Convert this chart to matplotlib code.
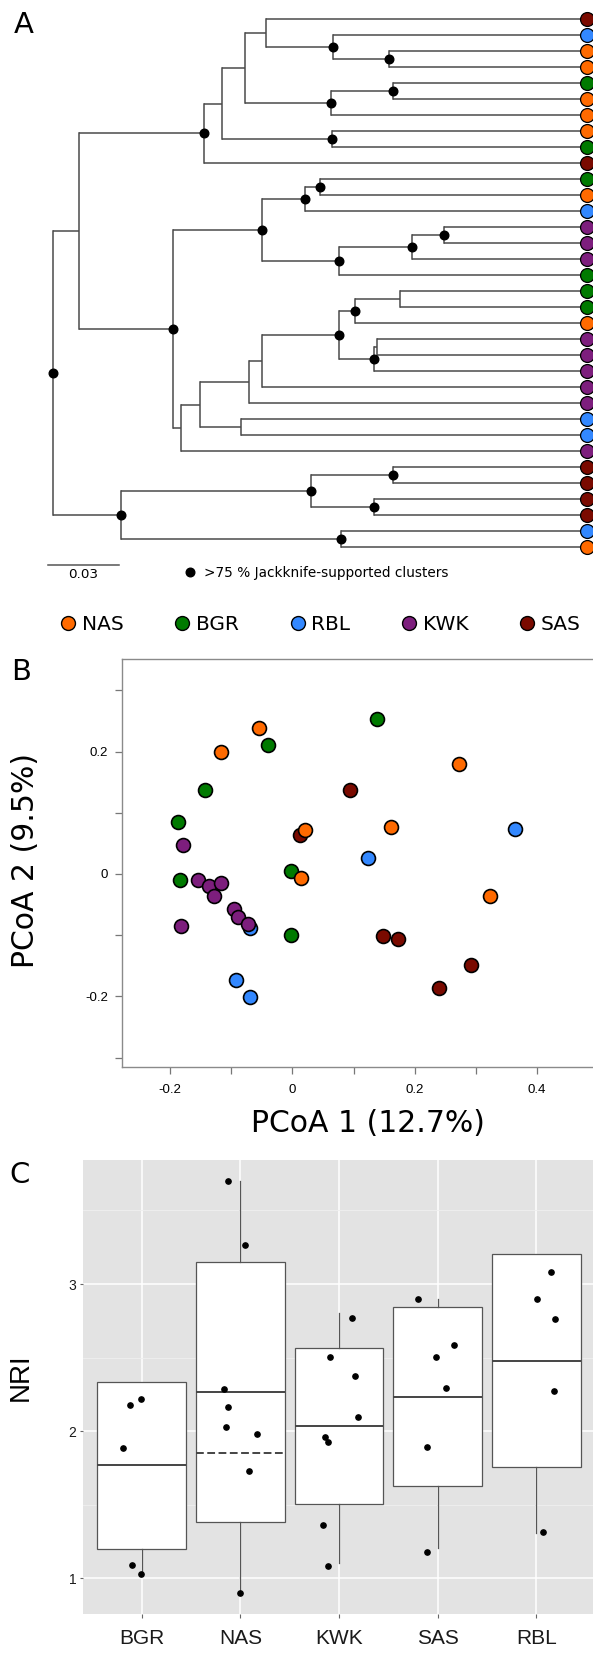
import matplotlib
matplotlib.use('Agg')
import matplotlib.pyplot as plt
from matplotlib.lines import Line2D
from matplotlib.ticker import MultipleLocator, FixedLocator, FuncFormatter

plt.rcParams['font.family'] = ['DejaVu Sans']
plt.rcParams['axes.unicode_minus'] = False

W, H, DPI = 593, 1659, 100

GROUPS = ['NAS', 'BGR', 'RBL', 'KWK', 'SAS']
COLORS = {'NAS': '#ff6a00', 'BGR': '#007a00', 'RBL': '#3388ff',
          'KWK': '#7d1e7d', 'SAS': '#7a0a00'}

# ---- panel A: tree (tips listed top to bottom) ----
TIP_GROUPS = ['SAS', 'RBL', 'NAS', 'NAS', 'BGR', 'NAS', 'NAS', 'NAS', 'BGR', 'SAS',
              'BGR', 'NAS', 'RBL', 'KWK', 'KWK', 'KWK', 'BGR', 'BGR', 'BGR', 'NAS',
              'KWK', 'KWK', 'KWK', 'KWK', 'KWK', 'RBL', 'RBL', 'KWK',
              'SAS', 'SAS', 'SAS', 'SAS', 'RBL', 'NAS']
TIP_DEPTH = 0.2275
# internal node = (depth from root, jackknife > 75 %, children...); leaf = tip index
TREE = (0.0, True,
        (0.0111, False,
         (0.0646, True,
          (0.0722, False,
           (0.0819, False,
            (0.0911, False, 0, (0.1193, True, 1, (0.1433, True, 2, 3))),
            (0.1188, True, (0.1452, True, 4, 5), 6)),
           (0.1191, True, 7, 8)),
          9),
         (0.0511, True,
          (0.0893, True,
           (0.1075, True, (0.1139, True, 10, 11), 12),
           (0.1220, True, (0.1532, True, (0.1666, True, 13, 14), 15), 16)),
          (0.0545, False,
           (0.0627, False,
            (0.0836, False,
             (0.0894, False,
              (0.1222, True,
               (0.1288, True, (0.1481, False, 17, 18), 19),
               (0.1371, True, (0.1384, False, 20, 21), 22)),
              23),
             24),
            (0.0804, False, 25, 26)),
           27))),
        (0.0290, True,
         (0.1102, True, (0.1449, True, 28, 29), (0.1371, True, 30, 31)),
         (0.1230, True, 32, 33)))
SCALE_BAR = 0.03

# ---- panel B: PCoA ----
PCOA = {
    'SAS': ([0.095, 0.0123, 0.148, 0.1725, 0.2925, 0.239],
            [0.137, 0.0637, -0.102, -0.1068, -0.148, -0.186]),
    'RBL': ([0.364, 0.124, -0.0693, -0.0929, -0.070],
            [0.073, 0.0256, -0.088, -0.174, -0.2015]),
    'BGR': ([-0.0396, 0.138, -0.1435, -0.187, -0.003, -0.184, -0.0026],
            [0.211, 0.253, 0.137, 0.0855, 0.0044, -0.0098, -0.100]),
    'KWK': ([-0.179, -0.155, -0.137, -0.116, -0.1275, -0.096, -0.089, -0.0724, -0.1825],
            [0.048, -0.0098, -0.019, -0.0147, -0.0365, -0.0577, -0.070, -0.081, -0.085]),
    'NAS': ([-0.0545, -0.116, 0.273, 0.161, 0.0203, 0.0148, 0.3234],
            [0.239, 0.200, 0.180, 0.0768, 0.0714, -0.0065, -0.0365]),
}

# ---- panel C: NRI boxplots ----
NRI_GROUPS = ['BGR', 'NAS', 'KWK', 'SAS', 'RBL']
NRI_Q1 = [1.199, 1.381, 1.505, 1.630, 1.759]
NRI_MED = [1.771, 2.265, 2.036, 2.235, 2.480]
NRI_Q3 = [2.337, 3.148, 2.565, 2.843, 3.204]
NRI_LO = [1.030, 0.898, 1.102, 1.204, 1.306]
NRI_HI = [2.337, 3.703, 2.803, 2.898, 3.204]
NAS_DASHED = 1.85
NRI_POINTS = {
    'BGR': ([2.177, 2.218, 1.882, 1.088, 1.027], [-0.119, -0.007, -0.192, -0.095, -0.007]),
    'NAS': ([3.703, 3.265, 2.286, 2.163, 2.025, 1.980, 1.732, 0.898],
            [-0.123, 0.047, -0.164, -0.123, -0.141, 0.169, 0.085, -0.007]),
    'KWK': ([2.771, 2.503, 2.378, 2.099, 1.963, 1.927, 1.363, 1.084],
            [0.131, -0.092, 0.161, 0.192, -0.142, -0.112, -0.161, -0.112]),
    'SAS': ([2.898, 2.585, 2.503, 2.295, 1.893, 1.181],
            [-0.200, 0.168, -0.015, 0.080, -0.112, -0.112]),
    'RBL': ([3.082, 2.898, 2.764, 2.276, 1.313], [0.150, 0.004, 0.188, 0.176, 0.065]),
}


def px_axes(fig, x0, y0, x1, y1):
    return fig.add_axes([x0 / W, 1 - y1 / H, (x1 - x0) / W, (y1 - y0) / H])


fig = plt.figure(figsize=(W / DPI, H / DPI), dpi=DPI)
LINE = '#4a4a4a'

# ---------------- A ----------------
axA = px_axes(fig, 0, 0, 593, 650)
axA.set_xlim(-0.02241, 0.23025)
axA.set_ylim(39.4375, -1.1875)
axA.axis('off')


def draw_node(ax, node):
    if isinstance(node, int):
        return node
    depth, supported, *kids = node
    ys = []
    for k in kids:
        y = draw_node(ax, k)
        kd = TIP_DEPTH if isinstance(k, int) else k[0]
        ax.plot([depth, kd], [y, y], color=LINE, lw=1.1, solid_capstyle='butt', zorder=1)
        ys.append(y)
    ax.plot([depth, depth], [ys[0], ys[-1]], color=LINE, lw=1.1,
            solid_capstyle='projecting', zorder=1)
    y = (ys[0] + ys[-1]) / 2
    if supported:
        ax.plot(depth, y, 'o', color='black', ms=6.2, zorder=3)
    return y


draw_node(axA, TREE)
for i, g in enumerate(TIP_GROUPS):
    axA.plot(TIP_DEPTH, i, 'o', mfc=COLORS[g], mec='black', mew=0.9, ms=10, zorder=4)

axA.plot([-0.0018, -0.0018 + SCALE_BAR], [34.125, 34.125], color='#555555', lw=1.1)
axA.text(-0.0018 + SCALE_BAR / 2, 34.69, '0.03', ha='center', va='center', fontsize=9.7)
axA.plot(0.0585, 34.54, 'o', color='black', ms=6.2)
axA.text(0.0645, 34.85, '>75 % Jackknife-supported clusters', ha='left',
         va='baseline', fontsize=9.8)

handles = [Line2D([], [], ls='', marker='o', mfc=COLORS[g], mec='black', mew=1.0, ms=10)
           for g in GROUPS]
fig.legend(handles, GROUPS, ncol=5, loc='center left',
           bbox_to_anchor=(60.5 / W, 1 - 625 / H), frameon=False, fontsize=14.5,
           handlelength=0.75, handletextpad=0.3, columnspacing=2.55,
           borderpad=0, borderaxespad=0)

# ---------------- B ----------------
axB = px_axes(fig, 122.2, 659, 600, 1067)
axB.set_xlim(-0.2783, 0.503)
axB.set_ylim(-0.3154, 0.3513)
for g in ['SAS', 'RBL', 'BGR', 'KWK', 'NAS']:
    xs, ys = PCOA[g]
    axB.scatter(xs, ys, s=100, c=COLORS[g], edgecolors='black', linewidths=1.2, zorder=3)
for s in ['left', 'bottom', 'top']:
    axB.spines[s].set_color('#8a8a8a')
    axB.spines[s].set_linewidth(1.0)
axB.spines['right'].set_visible(False)
axB.xaxis.set_major_locator(MultipleLocator(0.2))
axB.xaxis.set_minor_locator(MultipleLocator(0.1))
axB.yaxis.set_major_locator(MultipleLocator(0.2))
axB.yaxis.set_minor_locator(MultipleLocator(0.1))
fmt = FuncFormatter(lambda v, p: f'{round(v, 2) + 0.0:g}')
axB.xaxis.set_major_formatter(fmt)
axB.yaxis.set_major_formatter(fmt)
axB.tick_params(which='both', direction='out', length=5, width=0.9, color='#777777',
                labelsize=9.5, labelfontfamily='Liberation Sans')
axB.tick_params(axis='x', pad=7)
axB.tick_params(axis='y', pad=5)
fig.text(367.8 / W, 1 - 1123 / H, 'PCoA 1 (12.7%)', fontsize=21.5, ha='center', va='center')
fig.text(25.7 / W, 1 - 861 / H, 'PCoA 2 (9.5%)', fontsize=21.5, ha='center', va='center',
         rotation=90)

# ---------------- C ----------------
axC = px_axes(fig, 82.5, 1160, 595.5, 1614)
axC.set_xlim(0.4, 5.6)
axC.set_ylim(0.757, 3.843)
axC.set_facecolor('#e3e3e3')
for s in axC.spines.values():
    s.set_visible(False)
axC.set_axisbelow(True)
axC.yaxis.set_major_locator(FixedLocator([1, 2, 3]))
axC.yaxis.set_minor_locator(FixedLocator([1.5, 2.5, 3.5]))
axC.grid(which='major', color='white', lw=1.1)
axC.grid(which='minor', axis='y', color='#efefef', lw=0.6)

positions = list(range(1, len(NRI_GROUPS) + 1))
stats = [dict(med=NRI_MED[i], q1=NRI_Q1[i], q3=NRI_Q3[i], whislo=NRI_LO[i],
              whishi=NRI_HI[i], label=g) for i, g in enumerate(NRI_GROUPS)]
axC.bxp(stats, positions=positions, widths=0.9, showfliers=False, showcaps=False,
        patch_artist=True,
        boxprops=dict(facecolor='white', edgecolor='#555555', lw=0.9),
        medianprops=dict(color='#444444', lw=1.4),
        whiskerprops=dict(color='#555555', lw=0.9))
nas_pos = positions[NRI_GROUPS.index('NAS')]
axC.hlines(NAS_DASHED, nas_pos - 0.45, nas_pos + 0.45, colors='#444444',
           linestyles=(0, (4, 1.8)), lw=1.4, zorder=3)
for p, g in zip(positions, NRI_GROUPS):
    vals, offs = NRI_POINTS[g]
    axC.plot([p + o for o in offs], vals, 'o', color='black', ms=3.8, zorder=4)

axC.set_xticks(positions)
axC.set_xticklabels(NRI_GROUPS)
axC.tick_params(which='both', direction='out', color='#666666', width=0.8)
axC.tick_params(axis='x', length=3, pad=8, labelsize=15, labelfontfamily='Liberation Sans',
                labelcolor='#1a1a1a')
axC.tick_params(axis='y', which='major', length=2.5, pad=2, labelsize=10,
                labelfontfamily='Liberation Sans', labelcolor='#1a1a1a')
axC.tick_params(axis='y', which='minor', length=0)
fig.text(21 / W, 1 - 1377 / H, 'NRI', fontsize=20, family='Liberation Sans',
         ha='center', va='center', rotation=90)

# panel letters
fig.text(23.3 / W, 1 - 33.3 / H, 'A', fontsize=21, ha='center', va='baseline')
fig.text(21 / W, 1 - 680 / H, 'B', fontsize=21, ha='center', va='baseline')
fig.text(19.5 / W, 1 - 1183 / H, 'C', fontsize=21, ha='center', va='baseline')

fig.savefig('out.png', dpi=DPI)
